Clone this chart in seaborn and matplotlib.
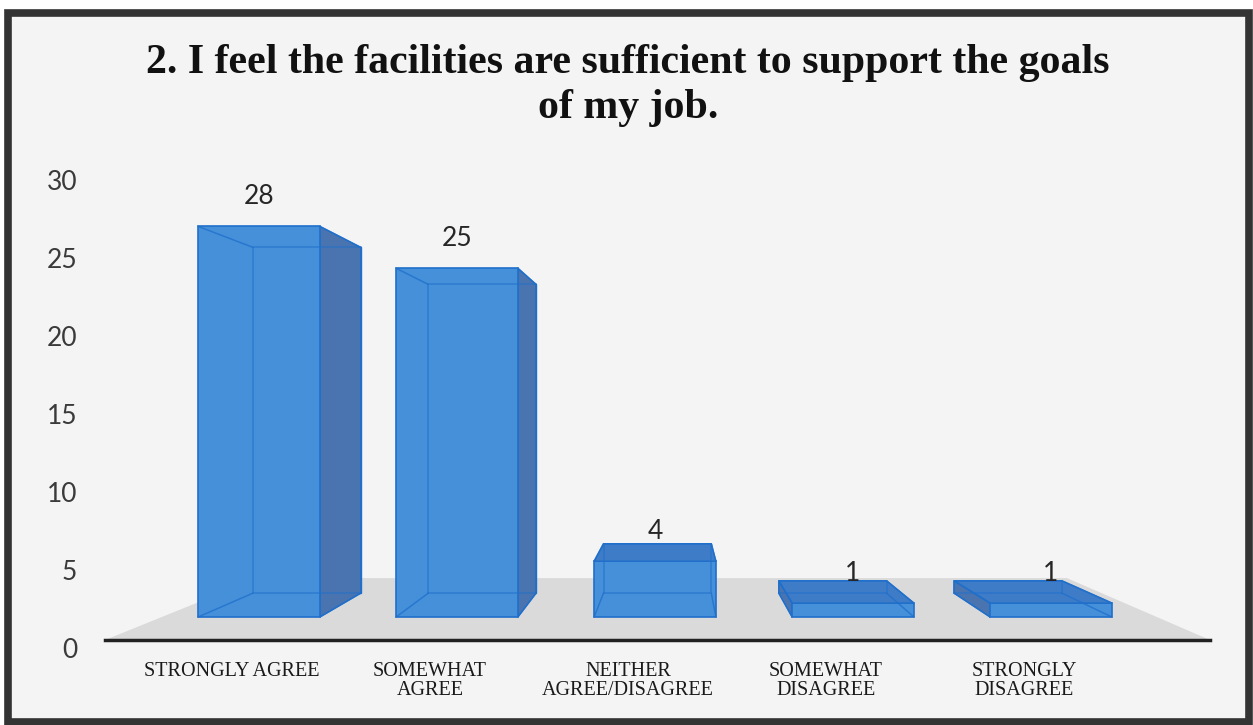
import numpy as np
import matplotlib
matplotlib.use("Agg")
import matplotlib.pyplot as plt
import matplotlib.transforms as mtransforms
from matplotlib.patches import Polygon, Rectangle
import seaborn as sns
import pandas as pd

# ---------------- data ----------------
categories = ["STRONGLY AGREE", "SOMEWHAT\nAGREE", "NEITHER\nAGREE/DISAGREE",
              "SOMEWHAT\nDISAGREE", "STRONGLY\nDISAGREE"]
responses = [28, 25, 4, 1, 1]
y_ticks = [0, 5, 10, 15, 20, 25, 30]
title = "2. I feel the facilities are sufficient to support the goals\nof my job."

# ---------------- style ----------------
FRONT = "#4690DA"
SIDE = "#4A74B0"
TOP = "#3E7CC8"
EDGE = "#1F6FCB"
FLOOR = "#DADADA"
VP = np.array([2.106, 14.91])   # perspective vanishing point (data coords)
K_BAR = 0.115                    # bar depth factor
K_FLOOR = 0.268                  # floor depth factor

W, H = 1253, 725
sns.set_style("white")
plt.rcParams["font.family"] = ["Lato", "DejaVu Sans"]

fig = plt.figure(figsize=(W / 100, H / 100), dpi=100)
fig.patch.set_facecolor("white")
fig.add_artist(Rectangle((0.006, 0.004), 0.9912, 0.9774, transform=fig.transFigure,
                         facecolor="#F4F4F4", edgecolor="#333333", lw=5.5, zorder=0))

ax = fig.add_axes([105 / W, (H - 640) / H, 1105 / W, 480 / H])
ax.patch.set_visible(False)

df = pd.DataFrame({"category": categories, "responses": responses})
sns.barplot(data=df, x="category", y="responses", color=FRONT, saturation=1,
            width=0.615, ax=ax, zorder=4, edgecolor=EDGE, linewidth=1.2)
bars = list(ax.patches)

ax.set_xlim((105 - 259) / 198, (1210 - 259) / 198)
ax.set_ylim(-(640 - 617) / 13.95, (617 - 160) / 13.95)

# floor
xl, xr = ax.get_xlim()
y0 = ax.get_ylim()[0]
Ff = np.array([[xl, y0], [xr, y0]])
Bf = Ff + (VP - Ff) * K_FLOOR
ax.add_patch(Polygon([Ff[0], Ff[1], Bf[1], Bf[0]], closed=True, facecolor=FLOOR,
                     edgecolor="none", zorder=1))

# 3D faces
for p in bars:
    x0, w, h = p.get_x(), p.get_width(), p.get_height()
    F = np.array([[x0, 0], [x0 + w, 0], [x0 + w, h], [x0, h]])
    B = F + (VP - F) * K_BAR
    ax.add_patch(Polygon(B, closed=True, facecolor=FRONT, edgecolor=EDGE, lw=1.0, zorder=2))
    if x0 + w < VP[0]:
        ax.add_patch(Polygon([F[1], B[1], B[2], F[2]], closed=True, facecolor=SIDE,
                             edgecolor=EDGE, lw=1.0, zorder=3))
    if x0 > VP[0]:
        ax.add_patch(Polygon([F[0], B[0], B[3], F[3]], closed=True, facecolor=SIDE,
                             edgecolor=EDGE, lw=1.0, zorder=3))
    if h < VP[1]:
        ax.add_patch(Polygon([F[3], F[2], B[2], B[3]], closed=True, facecolor=TOP,
                             edgecolor=EDGE, lw=1.0, zorder=5))
    for i in range(4):
        ax.plot([F[i][0], B[i][0]], [F[i][1], B[i][1]], color=EDGE, lw=1.1,
                alpha=0.75, zorder=5)
    ax.plot(list(B[:, 0]) + [B[0, 0]], list(B[:, 1]) + [B[0, 1]], color=EDGE, lw=1.1,
            alpha=0.6, zorder=5)
    ax.annotate(f"{int(round(h))}", (x0 + w / 2, h), xytext=(0, 21.6),
                textcoords="offset points", ha="center", va="center",
                fontsize=19, color="#262626", zorder=6)

for s in ["top", "right", "left"]:
    ax.spines[s].set_visible(False)
ax.spines["bottom"].set_color("#222222")
ax.spines["bottom"].set_linewidth(2.5)
ax.spines["bottom"].set_zorder(6)
ax.set_yticks([])
ax.set_xlabel("")
ax.set_ylabel("")
ax.tick_params(axis="x", length=0, pad=16.0)
offset = mtransforms.ScaledTranslation(-27 / 100, 0, fig.dpi_scale_trans)
for lab in ax.get_xticklabels():
    lab.set_fontfamily("Liberation Serif")
    lab.set_fontsize(14.5)
    lab.set_color("#1a1a1a")
    lab.set_linespacing(0.98)
    lab.set_transform(lab.get_transform() + offset)

# value axis labels (front plane of the 3D chart)
ax_y = fig.add_axes([105 / W, (H - 648) / H, 1105 / W, (648 - 180) / H])
ax_y.patch.set_visible(False)
for s in ax_y.spines.values():
    s.set_visible(False)
ax_y.set_ylim(0, 30)
ax_y.set_yticks(y_ticks)
ax_y.set_xticks([])
ax_y.tick_params(axis="y", length=0, pad=20, labelsize=19, labelcolor="#3a3a3a")

fig.text(628 / W, 1 - 44 / H, title, ha="center", va="top", fontsize=30.2,
         fontweight="bold", family="Liberation Serif", linespacing=1.25, color="#111111")

fig.savefig("out.png", dpi=100)
